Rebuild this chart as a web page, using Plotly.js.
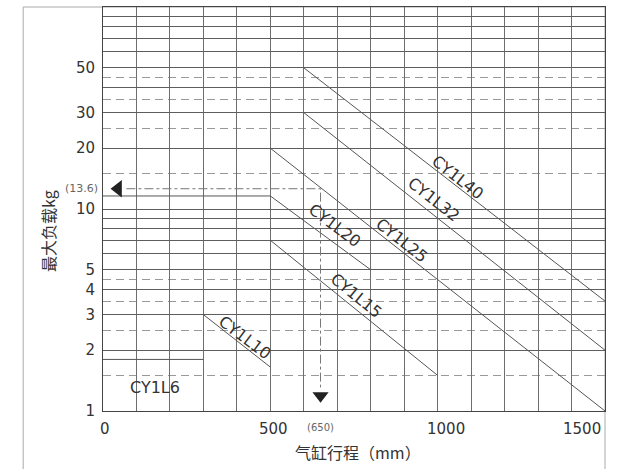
<!DOCTYPE html>
<html>
<head>
<meta charset="utf-8">
<script src="https://cdn.plot.ly/plotly-3.0.1.min.js"></script>
<style>html,body{margin:0;padding:0;background:#fff;}#chart{width:623px;height:469px;}</style>
</head>
<body>
<div id="chart"></div>
<script>
// ---- data ----
const strokeLabelVals = [0, 500, 1000, 1500];
const strokeLabelText = ["0", "500", "1000", "1500"];
const strokeGridVals = [0, 100, 200, 300, 400, 500, 600, 700, 800, 900, 1000, 1100, 1200, 1300, 1400, 1500];
const loadGridVals = [1, 2, 3, 4, 5, 6, 7, 8, 9, 10, 20, 30, 40, 50, 60, 70, 80, 90, 100];
const loadGridText = ["1", "2", "3", "4", "5", "", "", "", "", "10", "20", "30", "", "50", "", "", "", "", ""];
const loadDashedVals = [1.5, 2.5, 3.5, 4.5, 15, 25, 35, 45];

const seriesNames = ["CY1L6", "CY1L10", "CY1L15", "CY1L20", "CY1L25", "CY1L32", "CY1L40"];
const cy6Stroke = [0, 300],        cy6Load = [1.8, 1.8];
const cy10Stroke = [300, 500],     cy10Load = [3, 1.65];
const cy15Stroke = [500, 1000],    cy15Load = [7, 1.5];
const cy20Stroke = [0, 500, 800],  cy20Load = [11.6, 11.6, 5];
const cy25Stroke = [500, 1500],    cy25Load = [20, 1];
const cy32Stroke = [600, 1500],    cy32Load = [30, 2];
const cy40Stroke = [600, 1500],    cy40Load = [50, 3.5];

const exampleStroke = 650;
const exampleLoadRead = 12.6;          // where the example line sits on the axis
const exampleArrowStroke = 45;         // left arrow position (mm)
const exampleArrowLoad = 1.19;         // down arrow position (kg)
const exampleLoadText = "(13.6)";
const exampleStrokeText = "(650)";

const xTitle = "气缸行程（mm）";
const yTitle = "最大负载kg";

// ---- styles / positions ----
const curveColor = "#555";
const txt = "#333";
const numFont = "DejaVu Sans, Liberation Sans, Arial, sans-serif";
const cjkFont = "Noto Sans CJK SC, sans-serif";

const seriesStroke = [cy6Stroke, cy10Stroke, cy15Stroke, cy20Stroke, cy25Stroke, cy32Stroke, cy40Stroke];
const seriesLoad = [cy6Load, cy10Load, cy15Load, cy20Load, cy25Load, cy32Load, cy40Load];
// label placement [x(mm), y(kg), angle]
const labelPos = [
  [155, 1.30, 0],
  [424, 2.32, 37],
  [756, 3.71, 39],
  [693, 8.33, 37],
  [893, 7.02, 38],
  [989, 11.2, 38],
  [1061, 14.4, 38]
];
const strokeLabelShift = [2, 3, 8, -23];

const traces = seriesNames.map((n, i) => ({
  x: seriesStroke[i], y: seriesLoad[i], mode: "lines", name: n,
  line: {color: curveColor, width: 1}, hoverinfo: "skip"
}));

traces.push({
  x: [exampleArrowStroke + 25, exampleStroke, exampleStroke],
  y: [exampleLoadRead, exampleLoadRead, exampleArrowLoad * 1.1],
  mode: "lines", line: {color: "#777", width: 1, dash: "dashdot"}, hoverinfo: "skip"
});
traces.push({
  x: [exampleArrowStroke], y: [exampleLoadRead], mode: "markers",
  marker: {symbol: "triangle-left", size: 15, color: "#222"}, hoverinfo: "skip"
});
traces.push({
  x: [exampleStroke], y: [exampleArrowLoad], mode: "markers",
  marker: {symbol: "triangle-down", size: 14, color: "#222"}, hoverinfo: "skip"
});

const annotations = seriesNames.map((n, i) => ({
  x: labelPos[i][0], y: Math.log10(labelPos[i][1]), xref: "x", yref: "y",
  text: n, showarrow: false, textangle: labelPos[i][2],
  font: {family: numFont, size: 16, color: txt}
}));
strokeLabelVals.forEach((v, i) => annotations.push({
  x: v, y: 0, xref: "x", yref: "paper", yanchor: "top", yshift: -7,
  xshift: strokeLabelShift[i], text: strokeLabelText[i], showarrow: false,
  font: {family: numFont, size: 15, color: txt}
}));
annotations.push({
  x: exampleStroke, y: 0, xref: "x", yref: "paper", yanchor: "top", yshift: -9,
  text: exampleStrokeText, showarrow: false, font: {family: numFont, size: 10, color: "#666"}
});
annotations.push({
  x: 0, y: Math.log10(exampleLoadRead), xref: "paper", yref: "y", xanchor: "right", yanchor: "middle",
  xshift: -3, text: exampleLoadText, showarrow: false, font: {family: numFont, size: 11, color: "#666"}
});
annotations.push({
  x: 0.508, y: -0.101, xref: "paper", yref: "paper", xanchor: "center", yanchor: "middle",
  text: xTitle, showarrow: false, font: {family: cjkFont, size: 16, color: txt}
});
annotations.push({
  x: -0.11, y: 0.445, xref: "paper", yref: "paper", xanchor: "center", yanchor: "middle",
  text: yTitle, showarrow: false, textangle: -90, font: {family: cjkFont, size: 16, color: txt}
});

const layout = {
  width: 623, height: 469,
  margin: {l: 103, r: 18, t: 7, b: 58},
  paper_bgcolor: "#fff", plot_bgcolor: "#fff",
  showlegend: false,
  xaxis: {
    range: [0, 1500], tickmode: "array", tickvals: strokeGridVals, showticklabels: false,
    ticks: "", showgrid: true, gridcolor: "#6e6e6e", gridwidth: 1, zeroline: false,
    showline: true, mirror: true, linecolor: "#444", linewidth: 1, fixedrange: true
  },
  yaxis: {
    type: "log", range: [0, 2], tickmode: "array", tickvals: loadGridVals, ticktext: loadGridText,
    ticks: "", ticklabelstandoff: 4, showgrid: true, gridcolor: "#5e5e5e", gridwidth: 1, zeroline: false,
    showline: true, mirror: true, linecolor: "#444", linewidth: 1,
    tickfont: {family: numFont, size: 15, color: txt},
    minor: {tickmode: "array", tickvals: loadDashedVals, showgrid: true, gridcolor: "#999",
            griddash: "8px,5px", gridwidth: 1, ticks: ""},
    fixedrange: true
  },
  annotations: annotations,
  shapes: [{type: "rect", xref: "paper", yref: "paper", x0: -0.159, x1: 1, y0: -0.2, y1: 1,
            line: {color: "#aaa", width: 1}, layer: "below"}]
};

Plotly.newPlot("chart", traces, layout, {staticPlot: true, displayModeBar: false});
</script>
</body>
</html>
